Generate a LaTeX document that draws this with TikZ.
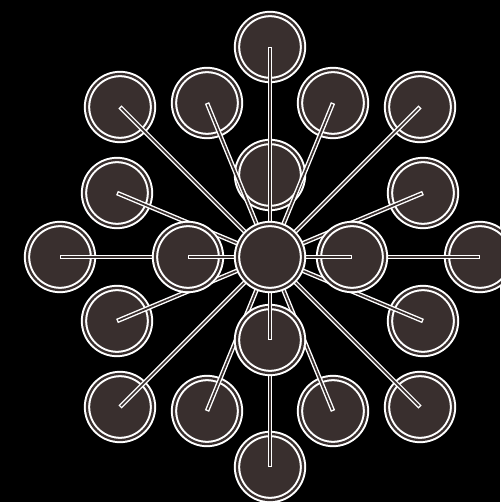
\documentclass[tikz,border=0pt]{standalone}
\usepackage{tikz}
\definecolor{discfill}{RGB}{57,47,46}
\tikzset{
  disc/.style={circle, inner sep=0pt, minimum size=1.32cm, fill=discfill,
    draw=white, line width=1.15pt, double=discfill, double distance=1.3pt},
  spoke/.style={white, line width=2.6pt,
    postaction={draw=discfill, line width=1pt, shorten >=0.8pt}}
}

\begin{document}
\begin{tikzpicture}[x=0.02cm, y=-0.02cm]
  \fill[black] (0,0) rectangle (500,502);
  \useasboundingbox (0,0) rectangle (500,502);
  \coordinate (hub) at (270,257);

  % inner top first, its neighbour runs over it
  \node[disc] (inN) at (270,175) {};
  \draw[spoke] (hub) -- (inN.center);

  % outer ring, clockwise from the top
  \node[disc] (outN) at (270,47) {};
  \draw[spoke] (hub) -- (outN.center);
  \node[disc] (nNNE) at (333,103) {};
  \draw[spoke] (hub) -- (nNNE.center);
  \node[disc] (nNE) at (420,107) {};
  \draw[spoke] (hub) -- (nNE.center);
  \node[disc] (nENE) at (423,193) {};
  \draw[spoke] (hub) -- (nENE.center);
  \node[disc] (outE) at (480,257) {};
  \draw[spoke] (hub) -- (outE.center);
  \node[disc] (nESE) at (423,321) {};
  \draw[spoke] (hub) -- (nESE.center);
  \node[disc] (nSE) at (420,407) {};
  \draw[spoke] (hub) -- (nSE.center);
  \node[disc] (nSSE) at (333,411) {};
  \draw[spoke] (hub) -- (nSSE.center);
  \node[disc] (outS) at (270,467) {};
  \draw[spoke] (hub) -- (outS.center);
  \node[disc] (nSSW) at (207,411) {};
  \draw[spoke] (hub) -- (nSSW.center);
  \node[disc] (nSW) at (120,407) {};
  \draw[spoke] (hub) -- (nSW.center);
  \node[disc] (nWSW) at (117,321) {};
  \draw[spoke] (hub) -- (nWSW.center);
  \node[disc] (outW) at (60,257) {};
  \draw[spoke] (hub) -- (outW.center);
  \node[disc] (nWNW) at (117,193) {};
  \draw[spoke] (hub) -- (nWNW.center);
  \node[disc] (nNW) at (120,107) {};
  \draw[spoke] (hub) -- (nNW.center);
  \node[disc] (nNNW) at (207,103) {};
  \draw[spoke] (hub) -- (nNNW.center);

  % remaining inner discs
  \node[disc] (inS) at (270,340) {};
  \draw[spoke] (hub) -- (inS.center);
  \node[disc] (inW) at (188,257) {};
  \draw[spoke] (hub) -- (inW.center);
  \node[disc] (inE) at (352,257) {};
  \draw[spoke] (hub) -- (inE.center);

  % centre on top
  \node[disc] (core) at (hub) {};
\end{tikzpicture}
\end{document}
